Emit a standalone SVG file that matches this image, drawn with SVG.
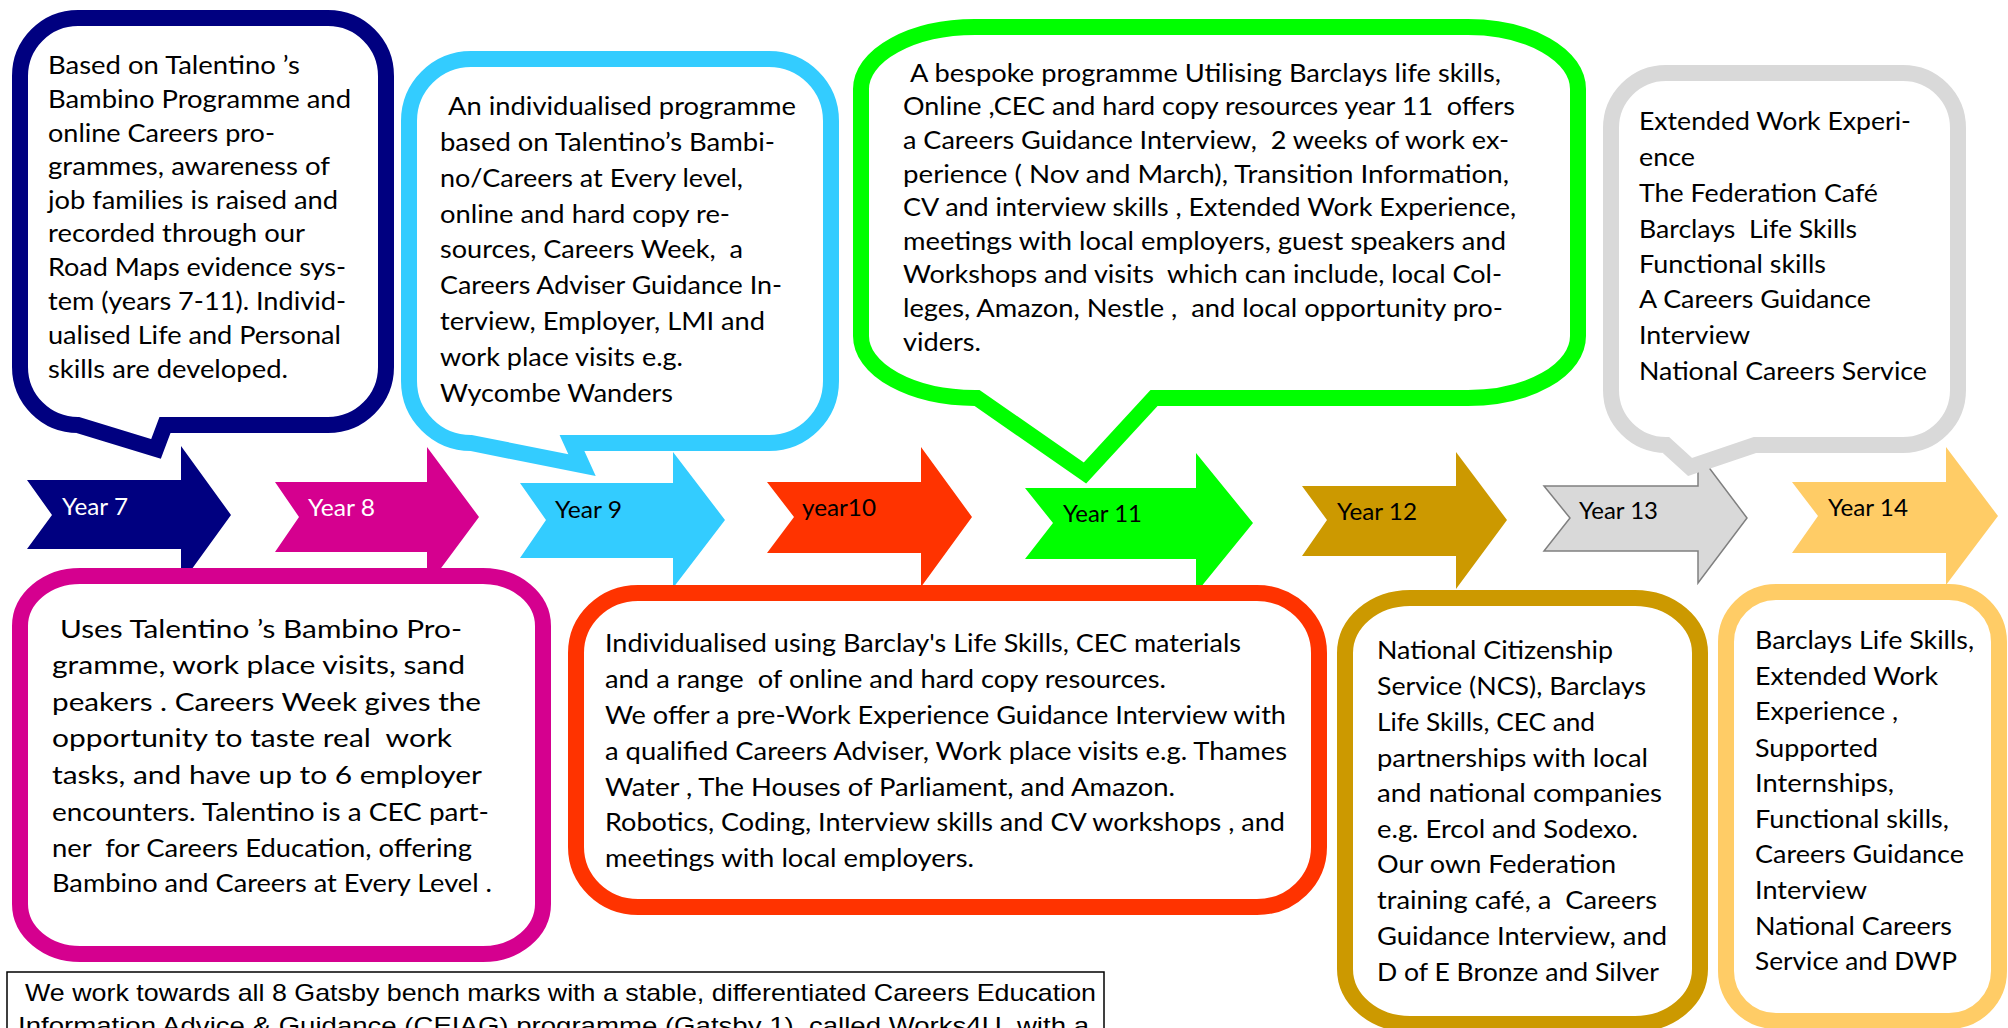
<svg xmlns="http://www.w3.org/2000/svg" width="2008" height="1028" viewBox="0 0 2008 1028">
<style>
.t{font-family:Lato,"Open Sans","Liberation Sans",sans-serif;font-size:25px;fill:#000;white-space:pre}
.lbl{font-family:Lato,"Open Sans","Liberation Sans",sans-serif;font-size:24px;white-space:pre}
.ft{font-family:"Liberation Sans",Arial,sans-serif;font-size:24px;fill:#000;white-space:pre}
.bub{fill:#fff;stroke-width:16;stroke-linejoin:miter;stroke-miterlimit:10}
</style>
<rect width="2008" height="1028" fill="#fff"/>

<!-- arrows -->
<g id="year7">
<polygon points="27,480 181,480 181,446 231,515 181,584 181,549 27,549 52,515" fill="#000080"/>
<text class="lbl" x="62" y="515" fill="#fff" textLength="66" lengthAdjust="spacingAndGlyphs">Year 7</text>
</g>
<g id="year8">
<polygon points="275,482 427,482 427,447 479,517 427,587 427,552 275,552 299,517" fill="#D5008F"/>
<text class="lbl" x="308" y="516" fill="#fff" textLength="67" lengthAdjust="spacingAndGlyphs">Year 8</text>
</g>
<g id="year9">
<polygon points="520,483 673,483 673,452 725,520 673,588 673,558 520,558 546,520" fill="#33CCFF"/>
<text class="lbl" x="555" y="518" fill="#000" textLength="67" lengthAdjust="spacingAndGlyphs">Year 9</text>
</g>
<g id="year10">
<polygon points="767,482 921,482 921,447 972,517 921,587 921,553 767,553 794,517" fill="#FF3300"/>
<text class="lbl" x="802" y="516" fill="#000" textLength="74" lengthAdjust="spacingAndGlyphs">year10</text>
</g>
<g id="year11">
<polygon points="1025,488 1196,488 1196,453 1253,523 1196,593 1196,559 1025,559 1053,523" fill="#00FF00"/>
<text class="lbl" x="1063" y="522" fill="#000" textLength="79" lengthAdjust="spacingAndGlyphs">Year 11</text>
</g>
<g id="year12">
<polygon points="1302,486 1456,486 1456,452 1507,520 1456,589 1456,556 1302,556 1327,520" fill="#CC9900"/>
<text class="lbl" x="1337" y="520" fill="#000" textLength="80" lengthAdjust="spacingAndGlyphs">Year 12</text>
</g>
<g id="year13">
<polygon points="1544,486 1698,486 1698,453 1747,518 1698,583 1698,551 1544,551 1570,518" fill="#D9D9D9" stroke="#808080" stroke-width="1.5"/>
<text class="lbl" x="1579" y="519" fill="#000" textLength="79" lengthAdjust="spacingAndGlyphs">Year 13</text>
</g>
<g id="year14">
<polygon points="1792,482 1946,482 1946,447 1998,516 1946,585 1946,553 1792,553 1818,516" fill="#FFCC66"/>
<text class="lbl" x="1828" y="516" fill="#000" textLength="80" lengthAdjust="spacingAndGlyphs">Year 14</text>
</g>

<!-- top callouts -->
<g id="callout-year7">
<path class="bub" stroke="#000080" d="M78,18 H328 A58,58 0 0 1 386,76 V367 A58,58 0 0 1 328,425 H165 L156,449 L78,425 A58,58 0 0 1 20,367 V76 A58,58 0 0 1 78,18 Z"/>
<text class="t" x="48" y="74" textLength="252" lengthAdjust="spacingAndGlyphs">Based on Talentino ’s</text>
<text class="t" x="48" y="107.5" textLength="303" lengthAdjust="spacingAndGlyphs">Bambino Programme and</text>
<text class="t" x="48" y="141.5" textLength="227" lengthAdjust="spacingAndGlyphs">online Careers pro-</text>
<text class="t" x="48" y="175" textLength="282" lengthAdjust="spacingAndGlyphs">grammes, awareness of</text>
<text class="t" x="48" y="208.5" textLength="290" lengthAdjust="spacingAndGlyphs">job families is raised and</text>
<text class="t" x="48" y="242" textLength="257" lengthAdjust="spacingAndGlyphs">recorded through our</text>
<text class="t" x="48" y="276" textLength="298" lengthAdjust="spacingAndGlyphs">Road Maps evidence sys-</text>
<text class="t" x="48" y="309.5" textLength="298" lengthAdjust="spacingAndGlyphs">tem (years 7-11). Individ-</text>
<text class="t" x="48" y="343.5" textLength="293" lengthAdjust="spacingAndGlyphs">ualised Life and Personal</text>
<text class="t" x="48" y="377.5" textLength="240" lengthAdjust="spacingAndGlyphs">skills are developed.</text>
</g>

<g id="callout-year9">
<path class="bub" stroke="#33CCFF" stroke-width="15" d="M471,59 H769 A62,62 0 0 1 831,121 V381 A62,62 0 0 1 769,443 H572 L582,465 L471,443 A62,62 0 0 1 409,381 V121 A62,62 0 0 1 471,59 Z"/>
<text class="t" x="448" y="115" textLength="348" lengthAdjust="spacingAndGlyphs">An individualised programme</text>
<text class="t" x="440" y="150.7" textLength="335" lengthAdjust="spacingAndGlyphs">based on Talentino’s Bambi-</text>
<text class="t" x="440" y="186.7" textLength="303" lengthAdjust="spacingAndGlyphs">no/Careers at Every level,</text>
<text class="t" x="440" y="222.7" textLength="290" lengthAdjust="spacingAndGlyphs">online and hard copy re-</text>
<text class="t" x="440" y="258.3" textLength="303" lengthAdjust="spacingAndGlyphs">sources, Careers Week,  a</text>
<text class="t" x="440" y="294" textLength="342" lengthAdjust="spacingAndGlyphs">Careers Adviser Guidance In-</text>
<text class="t" x="440" y="330" textLength="325" lengthAdjust="spacingAndGlyphs">terview, Employer, LMI and</text>
<text class="t" x="440" y="365.7" textLength="243" lengthAdjust="spacingAndGlyphs">work place visits e.g.</text>
<text class="t" x="440" y="401.7" textLength="233" lengthAdjust="spacingAndGlyphs">Wycombe Wanders</text>
</g>

<g id="callout-year11">
<path class="bub" stroke="#00FF00" d="M975,27 H1468 A110,62 0 0 1 1578,89 V336 A110,62 0 0 1 1468,398 H1154 L1085,473 L977,398 H975 A114,62 0 0 1 861,336 V89 A114,62 0 0 1 975,27 Z"/>
<text class="t" x="910" y="81.7" textLength="591" lengthAdjust="spacingAndGlyphs">A bespoke programme Utilising Barclays life skills,</text>
<text class="t" x="903" y="115" textLength="612" lengthAdjust="spacingAndGlyphs">Online ,CEC and hard copy resources year 11  offers</text>
<text class="t" x="903" y="149" textLength="606" lengthAdjust="spacingAndGlyphs">a Careers Guidance Interview,  2 weeks of work ex-</text>
<text class="t" x="903" y="182.7" textLength="606" lengthAdjust="spacingAndGlyphs">perience ( Nov and March), Transition Information,</text>
<text class="t" x="903" y="216" textLength="613" lengthAdjust="spacingAndGlyphs">CV and interview skills , Extended Work Experience,</text>
<text class="t" x="903" y="250" textLength="603" lengthAdjust="spacingAndGlyphs">meetings with local employers, guest speakers and</text>
<text class="t" x="903" y="283.3" textLength="599" lengthAdjust="spacingAndGlyphs">Workshops and visits  which can include, local Col-</text>
<text class="t" x="903" y="317.3" textLength="600" lengthAdjust="spacingAndGlyphs">leges, Amazon, Nestle ,  and local opportunity pro-</text>
<text class="t" x="903" y="351" textLength="78" lengthAdjust="spacingAndGlyphs">viders.</text>
</g>

<g id="callout-year13">
<path class="bub" stroke="#D9D9D9" d="M1666,73 H1903 A55,55 0 0 1 1958,128 V390 A55,55 0 0 1 1903,445 H1755 L1690,467 L1666,445 A55,55 0 0 1 1611,390 V128 A55,55 0 0 1 1666,73 Z"/>
<text class="t" x="1639" y="130" textLength="272" lengthAdjust="spacingAndGlyphs">Extended Work Experi-</text>
<text class="t" x="1639" y="166" textLength="56" lengthAdjust="spacingAndGlyphs">ence</text>
<text class="t" x="1639" y="202.3" textLength="239" lengthAdjust="spacingAndGlyphs">The Federation Café</text>
<text class="t" x="1639" y="237.7" textLength="218" lengthAdjust="spacingAndGlyphs">Barclays  Life Skills</text>
<text class="t" x="1639" y="272.7" textLength="187" lengthAdjust="spacingAndGlyphs">Functional skills</text>
<text class="t" x="1639" y="308.3" textLength="232" lengthAdjust="spacingAndGlyphs">A Careers Guidance</text>
<text class="t" x="1639" y="344" textLength="111" lengthAdjust="spacingAndGlyphs">Interview</text>
<text class="t" x="1639" y="380" textLength="288" lengthAdjust="spacingAndGlyphs">National Careers Service</text>
</g>

<!-- bottom boxes -->
<g id="box-year8">
<rect class="bub" stroke="#D5008F" x="20" y="576" width="523" height="378" rx="60" ry="50"/>
<text class="t" x="60" y="638.3" textLength="402" lengthAdjust="spacingAndGlyphs">Uses Talentino ’s Bambino Pro-</text>
<text class="t" x="52" y="674.3" textLength="413" lengthAdjust="spacingAndGlyphs">gramme, work place visits, sand</text>
<text class="t" x="52" y="711" textLength="429" lengthAdjust="spacingAndGlyphs">peakers . Careers Week gives the</text>
<text class="t" x="52" y="747.3" textLength="400" lengthAdjust="spacingAndGlyphs">opportunity to taste real  work</text>
<text class="t" x="52" y="784" textLength="430" lengthAdjust="spacingAndGlyphs">tasks, and have up to 6 employer</text>
<text class="t" x="52" y="820.7" textLength="437" lengthAdjust="spacingAndGlyphs">encounters. Talentino is a CEC part-</text>
<text class="t" x="52" y="856.7" textLength="420" lengthAdjust="spacingAndGlyphs">ner  for Careers Education, offering</text>
<text class="t" x="52" y="892" textLength="440" lengthAdjust="spacingAndGlyphs">Bambino and Careers at Every Level .</text>
</g>

<g id="box-year10">
<rect class="bub" stroke="#FF3300" x="576" y="593" width="743" height="314" rx="62" ry="60"/>
<text class="t" x="605" y="651.7" textLength="636" lengthAdjust="spacingAndGlyphs">Individualised using Barclay's Life Skills, CEC materials</text>
<text class="t" x="605" y="688.3" textLength="561" lengthAdjust="spacingAndGlyphs">and a range  of online and hard copy resources.</text>
<text class="t" x="605" y="724" textLength="681" lengthAdjust="spacingAndGlyphs">We offer a pre-Work Experience Guidance Interview with</text>
<text class="t" x="605" y="760" textLength="682" lengthAdjust="spacingAndGlyphs">a qualified Careers Adviser, Work place visits e.g. Thames</text>
<text class="t" x="605" y="795.7" textLength="570" lengthAdjust="spacingAndGlyphs">Water , The Houses of Parliament, and Amazon.</text>
<text class="t" x="605" y="831" textLength="680" lengthAdjust="spacingAndGlyphs">Robotics, Coding, Interview skills and CV workshops , and</text>
<text class="t" x="605" y="866.7" textLength="369" lengthAdjust="spacingAndGlyphs">meetings with local employers.</text>
</g>

<g id="box-year12">
<rect class="bub" stroke="#CC9900" x="1345" y="598" width="355" height="426" rx="65" ry="55"/>
<text class="t" x="1377" y="659.3" textLength="236" lengthAdjust="spacingAndGlyphs">National Citizenship</text>
<text class="t" x="1377" y="695" textLength="269" lengthAdjust="spacingAndGlyphs">Service (NCS), Barclays</text>
<text class="t" x="1377" y="731" textLength="218" lengthAdjust="spacingAndGlyphs">Life Skills, CEC and</text>
<text class="t" x="1377" y="766.7" textLength="271" lengthAdjust="spacingAndGlyphs">partnerships with local</text>
<text class="t" x="1377" y="802.3" textLength="285" lengthAdjust="spacingAndGlyphs">and national companies</text>
<text class="t" x="1377" y="837.7" textLength="261" lengthAdjust="spacingAndGlyphs">e.g. Ercol and Sodexo.</text>
<text class="t" x="1377" y="873.3" textLength="239" lengthAdjust="spacingAndGlyphs">Our own Federation</text>
<text class="t" x="1377" y="909.3" textLength="280" lengthAdjust="spacingAndGlyphs">training café, a  Careers</text>
<text class="t" x="1377" y="945" textLength="290" lengthAdjust="spacingAndGlyphs">Guidance Interview, and</text>
<text class="t" x="1377" y="980.7" textLength="282" lengthAdjust="spacingAndGlyphs">D of E Bronze and Silver</text>
</g>

<g id="box-year14">
<rect class="bub" stroke="#FFCC66" x="1726" y="592" width="273" height="429" rx="50" ry="50"/>
<text class="t" x="1755" y="649.3" textLength="219" lengthAdjust="spacingAndGlyphs">Barclays Life Skills,</text>
<text class="t" x="1755" y="685" textLength="183" lengthAdjust="spacingAndGlyphs">Extended Work</text>
<text class="t" x="1755" y="720" textLength="143" lengthAdjust="spacingAndGlyphs">Experience ,</text>
<text class="t" x="1755" y="756.7" textLength="123" lengthAdjust="spacingAndGlyphs">Supported</text>
<text class="t" x="1755" y="791.7" textLength="139" lengthAdjust="spacingAndGlyphs">Internships,</text>
<text class="t" x="1755" y="828.3" textLength="194" lengthAdjust="spacingAndGlyphs">Functional skills,</text>
<text class="t" x="1755" y="863.3" textLength="209" lengthAdjust="spacingAndGlyphs">Careers Guidance</text>
<text class="t" x="1755" y="899.3" textLength="112" lengthAdjust="spacingAndGlyphs">Interview</text>
<text class="t" x="1755" y="935" textLength="197" lengthAdjust="spacingAndGlyphs">National Careers</text>
<text class="t" x="1755" y="970" textLength="202" lengthAdjust="spacingAndGlyphs">Service and DWP</text>
</g>

<g id="footer">
<rect x="7" y="972" width="1097" height="90" fill="#fff" stroke="#000" stroke-width="1.5"/>
<text class="ft" x="25" y="1001" textLength="1071" lengthAdjust="spacingAndGlyphs">We work towards all 8 Gatsby bench marks with a stable, differentiated Careers Education</text>
<text class="ft" x="18" y="1034" textLength="1071" lengthAdjust="spacingAndGlyphs">Information Advice &amp; Guidance (CEIAG) programme (Gatsby 1), called Works4U, with a</text>
</g>
</svg>
